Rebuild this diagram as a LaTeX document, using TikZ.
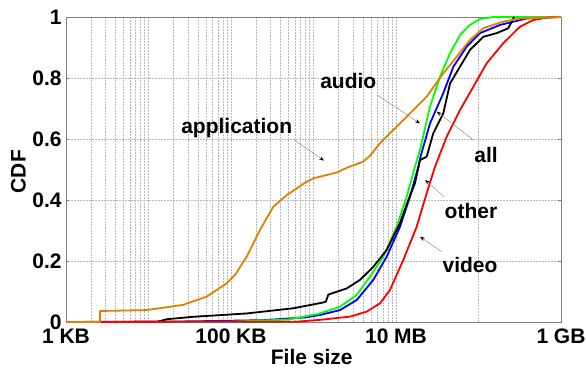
\documentclass[tikz,border=0pt]{standalone}
\usepackage{fontspec}
\setmainfont{Liberation Sans}
\usetikzlibrary{arrows.meta}
\definecolor{appcol}{RGB}{224,128,0}
\definecolor{gridcol}{RGB}{185,185,185}
\definecolor{framecol}{RGB}{128,128,128}
\tikzset{
    every node/.style={inner sep=0mm, font=\fontsize{21}{25}\selectfont\bfseries},
    curve/.style={line width=1.8pt, line join=round},
    pointer/.style={draw=gray, line width=0.4pt, -{Stealth[length=5pt, width=3.5pt, black]}},
    gridline/.style={gridcol, densely dotted, line width=0.5pt}
}

\begin{document}
\begin{tikzpicture}[x=82.5pt, y=305pt]
    \useasboundingbox (-0.8, -0.1574) rectangle (6.303, 1.0557);

    % grid
    \foreach \d in {0,1,2,3} {
        \foreach \k in {2,...,9} {
            \draw[gridline] ({\d+log10(\k)}, 0) -- ({\d+log10(\k)}, 1);
        }
    }
    \foreach \d in {1,...,5} \draw[gridline] (\d, 0) -- (\d, 1);
    \foreach \y in {0.2,0.4,0.6,0.8} \draw[gridline] (0, \y) -- (6, \y);

    % frame and ticks
    \draw[framecol, line width=0.6pt] (0, 0) rectangle (6, 1);
    \foreach \y in {0.2,0.4,0.6,0.8} {
        \draw[framecol, line width=0.6pt] (0, \y) -- ++(3pt, 0);
        \draw[framecol, line width=0.6pt] (6, \y) -- ++(-3pt, 0);
    }

    % curves
    \draw[curve, blue] plot coordinates {(0,0) (1.5,0.002) (2.4,0.006) (2.9,0.015) (3.079,0.023) (3.321,0.039) (3.524,0.072) (3.725,0.138) (3.887,0.214) (4.048,0.312) (4.17,0.411) (4.27,0.509) (4.3,0.545) (4.412,0.651) (4.573,0.75) (4.695,0.837) (4.857,0.903) (5.018,0.947) (5.261,0.974) (5.584,0.995) (6,1)};
    \draw[curve, green] plot coordinates {(0,0) (2.0,0.001) (2.7,0.008) (3.079,0.028) (3.321,0.05) (3.524,0.089) (3.685,0.149) (3.846,0.214) (4.008,0.312) (4.13,0.411) (4.23,0.509) (4.291,0.564) (4.412,0.706) (4.533,0.804) (4.655,0.881) (4.776,0.941) (4.897,0.974) (5.018,0.993) (5.18,1) (6,1)};
    \draw[curve, black] plot coordinates {(0,0) (1.1,0) (1.22,0.009) (1.543,0.017) (2.19,0.028) (2.755,0.045) (3.119,0.064) (3.15,0.067) (3.18,0.09) (3.402,0.11) (3.564,0.138) (3.725,0.181) (3.887,0.236) (4.048,0.324) (4.149,0.4) (4.23,0.455) (4.291,0.531) (4.372,0.542) (4.452,0.619) (4.573,0.684) (4.655,0.782) (4.776,0.837) (4.897,0.892) (5.058,0.935) (5.22,0.947) (5.361,0.963) (5.422,0.995) (5.433,1)};
    \draw[curve, red] plot coordinates {(0,0) (2.8,0.001) (3.079,0.007) (3.442,0.0175) (3.645,0.034) (3.806,0.061) (3.927,0.105) (4.088,0.203) (4.25,0.312) (4.372,0.422) (4.473,0.509) (4.614,0.607) (4.776,0.695) (4.937,0.771) (5.099,0.848) (5.3,0.914) (5.503,0.968) (5.664,0.99) (5.85,0.999) (6,1)};
    \draw[curve, appcol] plot coordinates {(0,0) (0.412,0) (0.412,0.036) (0.978,0.039) (1.418,0.056) (1.705,0.083) (1.948,0.127) (2.048,0.154) (2.19,0.214) (2.352,0.302) (2.513,0.378) (2.675,0.416) (2.796,0.438) (2.918,0.46) (2.998,0.471) (3.16,0.482) (3.281,0.49) (3.4,0.505) (3.604,0.526) (3.685,0.545) (3.806,0.586) (3.927,0.619) (4.048,0.651) (4.13,0.673) (4.372,0.739) (4.573,0.815) (4.736,0.87) (4.897,0.925) (5.058,0.963) (5.3,0.985) (5.503,0.995) (6,1)};

    % tick labels
    \node (y0) at (-0.05, 0) [anchor=east] {0};
    \node (y2) at (-0.05, 0.2) [anchor=east] {0.2};
    \node (y4) at (-0.05, 0.4) [anchor=east] {0.4};
    \node (y6) at (-0.05, 0.6) [anchor=east] {0.6};
    \node (y8) at (-0.05, 0.8) [anchor=east] {0.8};
    \node (y10) at (-0.05, 1) [anchor=east] {1};
    \node (kb) at (0, -0.072) [anchor=base] {1 KB};
    \node (hkb) at (2, -0.072) [anchor=base] {100 KB};
    \node (mb) at (4, -0.072) [anchor=base] {10 MB};
    \node (gb) at (6, -0.072) [anchor=base] {1 GB};
    \node (xlab) at (2.978, -0.141) [anchor=base] {File size};
    \node (ylab) at (-0.578, 0.493) [rotate=90] {CDF};

    % labels and pointers
    \node (app) at (2.069, 0.619) [anchor=base] {application};
    \node (aud) at (3.422, 0.766) [anchor=base] {audio};
    \node (all) at (5.091, 0.522) [anchor=base] {all};
    \node (oth) at (4.909, 0.34) [anchor=base] {other};
    \node (vid) at (4.897, 0.162) [anchor=base] {video};

    \coordinate (appA) at (2.755, 0.599);
    \coordinate (appB) at (3.127, 0.529);
    \coordinate (audA) at (3.773, 0.744);
    \coordinate (audB) at (4.291, 0.651);
    \coordinate (allA) at (4.937, 0.597);
    \coordinate (allB) at (4.493, 0.69);
    \coordinate (othA) at (4.582, 0.411);
    \coordinate (othB) at (4.352, 0.466);
    \coordinate (vidA) at (4.554, 0.23);
    \coordinate (vidB) at (4.291, 0.28);

    \draw[pointer] (appA) -- (appB);
    \draw[pointer] (audA) -- (audB);
    \draw[pointer] (allA) -- (allB);
    \draw[pointer] (othA) -- (othB);
    \draw[pointer] (vidA) -- (vidB);
\end{tikzpicture}
\end{document}
